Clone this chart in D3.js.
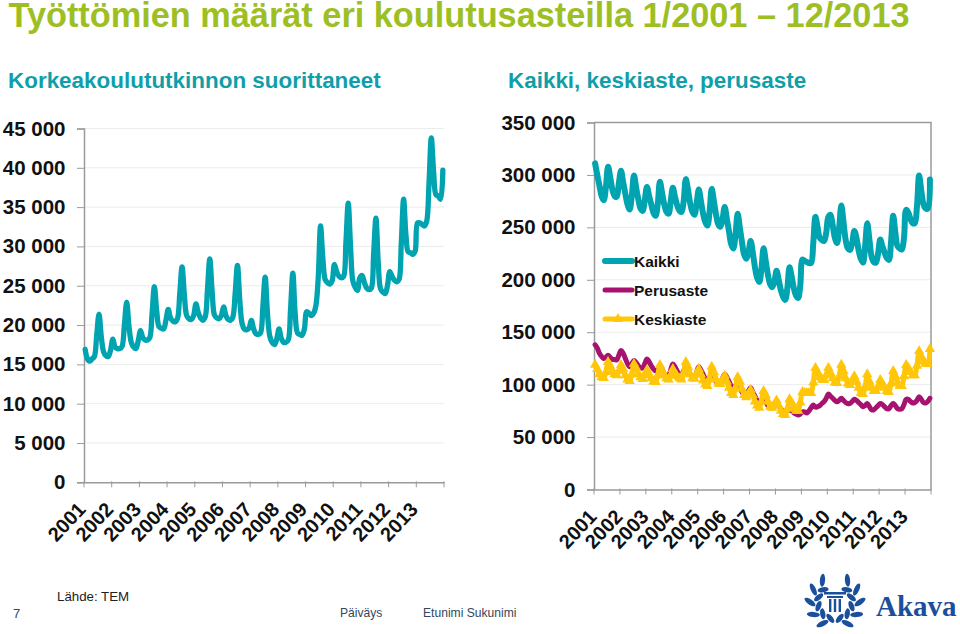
<!DOCTYPE html>
<html><head><meta charset="utf-8">
<script src="https://cdnjs.cloudflare.com/ajax/libs/d3/7.8.5/d3.min.js"></script>
<style>html,body{margin:0;padding:0;background:#fff;overflow:hidden}svg{display:block;font-family:"Liberation Sans",Arial,sans-serif}</style>
</head><body><svg id="c" width="960" height="634"></svg>
<script>
const years=["2001","2002","2003","2004","2005","2006","2007","2008","2009","2010","2011","2012","2013"];
const leftTicks=[0,5000,10000,15000,20000,25000,30000,35000,40000,45000];
const rightTicks=[0,50000,100000,150000,200000,250000,300000,350000];
const korkea=[16.9,15.7,15.4,15.7,16.0,18.7,21.4,18.5,16.6,16.1,16.0,16.8,
18.2,17.2,17.0,17.0,17.3,20.0,22.9,19.8,17.8,17.2,17.0,18.0,
19.3,18.4,18.1,18.1,18.4,21.5,24.9,21.8,19.8,19.6,19.5,20.6,
22.0,20.9,20.5,20.4,20.8,24.0,27.4,23.8,21.2,20.8,20.7,21.2,
22.7,21.6,20.9,20.6,21.0,24.5,28.4,24.4,21.3,20.9,20.8,21.2,
22.3,21.2,20.7,20.6,21.0,24.0,27.6,23.2,20.2,19.5,19.4,19.6,
20.6,19.5,18.9,18.8,19.0,22.3,26.1,21.5,18.6,17.8,17.5,18.2,
19.5,18.3,17.8,17.8,18.1,22.0,26.6,21.5,19.0,18.8,18.7,19.5,
21.7,21.5,21.2,21.5,22.5,26.0,32.6,28.5,25.8,25.4,25.2,25.6,
27.7,26.8,26.2,26.0,26.2,30.5,35.5,30.0,25.6,24.8,24.4,26.0,
26.3,25.4,24.7,24.5,24.7,29.0,33.6,28.0,24.6,24.2,24.0,25.0,
26.8,26.2,25.7,25.5,25.8,30.5,36.0,31.5,29.3,29.2,29.0,29.4,
33.0,33.0,32.8,32.6,33.2,38.0,43.8,39.5,36.6,36.4,36.0,39.7];
const kaikki=[311,300,290,280,276,288,307.7,298,286,280,279,292,
304,293,282,272,267,280,299.5,288,277,268,265.7,276,
288.6,280,272,264,261,272,293.4,283,272,265,263,275,
287.7,279,271,266,264.7,275,296,286,273,265,262,273,
286,275,263,255,251.7,265,286.7,275,262,253,250.5,258,
269.5,258,246,234,229.8,243,263,250,236,224,220,226,
237,226,212,202,198,210,230,218,205,196,193,198,
208.5,200,190,184,180.8,192,212,203,192,185,182.7,195,
219.3,218,217,216,216,235,260,250,240,238,237,245,
260,262,252,240,235,250,270.8,255,238,230,228.5,235,
246.6,240,228,220,216.4,232,254,238,222,217,216.4,225,
238.4,232,226,221,219,236,261,245,232,230,228.8,240,
266.7,264,258,254,254,270,299.5,285,272,268,268,295.6];
const perusaste=[138,135,130,127,125,126,128,126,124,124,123.5,128,
132.6,130,125,120,117,120,123,121,118,116,116,120,
124.5,122,118,115,113,115,118,115,110,108,108,114,
119.7,117,113,110,109,113,118,115,110,107,106,112,
117,114,110,106,105,107,110,107,103,101,101,106,
110,107,103,99,98,99,100,97,93,90,90,94,
97,93,89,85,84,84,85,83,80,78,78,80,
82,80,77,75,74,75,76,75,73,72,71,72,
74,74,73,75,78,80.6,78.5,79,80,82,83.8,87,
91,89,87,85,83.8,85,87,85,83,82,82,84,
86,85,83,81,79,80,82,79,76,76,78,80,
82,81,79,77,77,80,82,80,77,76.5,77,81,
86,86,84,82.5,83,85,88.5,86,83,82.5,84,87];
const keskiaste=[119,115,110,107,106.4,112,121.6,118,113,110,109,113,
118.8,115,109,105,103.5,110,119.8,116,110,107,105.4,109,
114,110,106,103,102.6,109,118.8,114,109,106,105,109,
115,111,108,106,105,111,121.6,117,110,106,105.7,110,
115,110,104,100,98.8,106,117,112,105,101,100.7,104,
108.6,103,97,92,90,97,107,103,96,90,88,91,
95,90,84,80,78,84,94,90,84,79,78,81,
85,80,75,72,71,77,86,83,78,75,75,83,
93,92,92,92,92,102,116,112,107,105,104.5,109,
116,111,106,102,101.6,108,119,113,106,101,99.7,103,
108,103,97,92,91,98,110,103,97,94,94,98,
104.5,101,97,94,93,101,113,108,102,99,98.8,108,
118.8,116,112,109,109,118,132,127,122,120,120,134];
const legendNames=["Kaikki","Perusaste","Keskiaste"];
const TEAL="#00a3b0",MAG="#a6126e",YEL="#ffc60a",GRID="#ececec",AX="#9a9a9a";
const svg=d3.select("#c");
const fmt=v=>d3.format(",")(v).replace(/,/g," ");
const months=d3.range(156);

function panel(x0,x1,yT,yB,max,ticks,border,labOff){
  const g=svg.append("g");
  const x=d3.scaleBand().domain(months).range([x0,x1]);
  const y=d3.scaleLinear().domain([0,max]).range([yB,yT]);
  const px=i=>x(i)+x.bandwidth()/2;
  g.append("g").selectAll("line").data(ticks.filter(t=>t>0)).join("line")
    .attr("x1",x0).attr("x2",x1).attr("y1",d=>y(d)).attr("y2",d=>y(d)).attr("stroke",GRID).attr("stroke-width",1);
  if(border){
    g.append("path").attr("d",`M${x0},${yT}H${x1}V${yB}`).attr("fill","none").attr("stroke",AX).attr("stroke-width",1.5);
  }
  const ya=g.append("g").attr("transform",`translate(${x0},0)`).call(d3.axisLeft(y).tickValues(ticks).tickSize(7).tickFormat(fmt));
  ya.select(".domain").attr("stroke",AX).attr("stroke-width",1.5);
  ya.selectAll(".tick line").attr("stroke",AX);
  ya.selectAll("text").attr("font-family",'"Liberation Sans",Arial,sans-serif').attr("font-weight","bold").attr("font-size",20.5).attr("fill","#111").attr("x",-18.5);
  const yearX=d3.scaleBand().domain(years).range([x0,x1]);
  const xa=g.append("g").attr("transform",`translate(0,${yB})`).call(d3.axisBottom(yearX).tickValues([]).tickSize(0));
  xa.select(".domain").attr("stroke",AX).attr("stroke-width",1.5);
  g.append("g").selectAll("line").data(years.concat(["end"])).join("line")
    .attr("x1",(d,i)=>x0+i*yearX.step()).attr("x2",(d,i)=>x0+i*yearX.step())
    .attr("y1",yB-1).attr("y2",yB+5).attr("stroke",AX).attr("stroke-width",1);
  g.append("g").selectAll("text").data(years).join("text")
    .attr("transform",d=>`translate(${yearX(d)+yearX.bandwidth()/2+labOff},${yB+28}) rotate(-47)`)
    .attr("text-anchor","end").attr("font-weight","bold").attr("font-size",20).attr("fill","#111").text(d=>d);
  return {px,y,g};
}
function line(p,vals,mult,color,w){
  const gen=d3.line().x((d,i)=>p.px(i)).y(d=>p.y(d*mult)).curve(d3.curveCatmullRom.alpha(0.5));
  p.g.append("path").attr("d",gen(vals)).attr("fill","none").attr("stroke",color).attr("stroke-width",w).attr("stroke-linejoin","round").attr("stroke-linecap","round");
}
const L=panel(84,444,128.5,482.3,45000,leftTicks,false,-11);
line(L,korkea,1000,TEAL,5.3);
const R=panel(594,931,122.5,489.5,350000,rightTicks,true,-9);
line(R,kaikki,1000,TEAL,6);
line(R,perusaste,1000,MAG,5);
line(R,keskiaste,1000,YEL,5);
R.g.append("g").selectAll("path").data(keskiaste).join("path")
  .attr("d",d3.symbol(d3.symbolTriangle,46))
  .attr("transform",(d,i)=>`translate(${R.px(i)},${R.y(d*1000)})`).attr("fill",YEL);

// legend
const lc=[TEAL,MAG,YEL],ly=d3.scalePoint().domain(legendNames).range([261,319]);
const lg=svg.append("g");
lg.selectAll("line").data(legendNames).join("line").attr("x1",605).attr("x2",632).attr("y1",d=>ly(d)).attr("y2",d=>ly(d))
  .attr("stroke",(d,i)=>lc[i]).attr("stroke-width",(d,i)=>i==0?6:5).attr("stroke-linecap","round");
lg.append("path").attr("d",d3.symbol(d3.symbolTriangle,46)).attr("transform",`translate(618,${ly("Keskiaste")})`).attr("fill",YEL);
lg.selectAll("text").data(legendNames).join("text").attr("x",634).attr("y",d=>ly(d)+5.5)
  .attr("font-weight","bold").attr("font-size",15.5).attr("fill","#111").text(d=>d);

// titles
svg.append("text").attr("x",8.5).attr("y",26.5).attr("font-weight","bold").attr("font-size",34.3).attr("fill","#9dbf24")
  .style("white-space","pre").text("Työttömien määrät eri koulutusasteilla 1/2001 – 12/2013");
[["Korkeakoulututkinnon suorittaneet",8],["Kaikki, keskiaste, perusaste",508]].forEach(([t,x])=>
  svg.append("text").attr("x",x).attr("y",88).attr("font-weight","bold").attr("font-size",22.45).attr("fill","#109ea9").text(t));
// footer
svg.append("text").attr("x",57).attr("y",601).attr("font-size",13.3).attr("fill","#222").text("Lähde: TEM");
svg.append("text").attr("x",13).attr("y",618).attr("font-size",13).attr("fill","#2a4a7a").text("7");
svg.append("text").attr("x",340).attr("y",617).attr("font-size",12.1).attr("fill","#34465a").text("Päiväys");
svg.append("text").attr("x",423).attr("y",617).attr("font-size",12.1).attr("fill","#34465a").text("Etunimi Sukunimi");
// logo
const BL="#1b4f9c",lo=svg.append("g").attr("transform","translate(835,602)");
const leafAngles=[-150,-120,-90,-60,-30,30,60,90,120,150];
[[25,13,0,55],[17,11,14,-35]].forEach(([r,l,off,tilt])=>{
  lo.append("g").selectAll("ellipse").data(leafAngles).join("ellipse")
    .attr("rx",l/2).attr("ry",2.6)
    .attr("transform",d=>{const s=d<0?-1:1,deg=d+s*off,a=deg*Math.PI/180,px=r*Math.sin(a),py=-r*Math.cos(a);return `translate(${px},${py}) rotate(${deg+s*tilt})`;})
    .attr("fill",BL);
});
lo.append("rect").attr("x",-11).attr("y",-10).attr("width",22).attr("height",2.5).attr("fill",BL);
lo.append("rect").attr("x",-8).attr("y",-6).attr("width",16).attr("height",2).attr("fill",BL);
lo.append("g").selectAll("rect").data([-6,-1.2,3.6]).join("rect").attr("x",d=>d).attr("y",-3).attr("width",2.4).attr("height",13).attr("fill",BL);
svg.append("text").attr("x",876).attr("y",616).attr("font-family",'"Liberation Serif",serif').attr("font-weight","bold").attr("font-size",29).attr("fill",BL).text("Akava");
</script></body></html>
